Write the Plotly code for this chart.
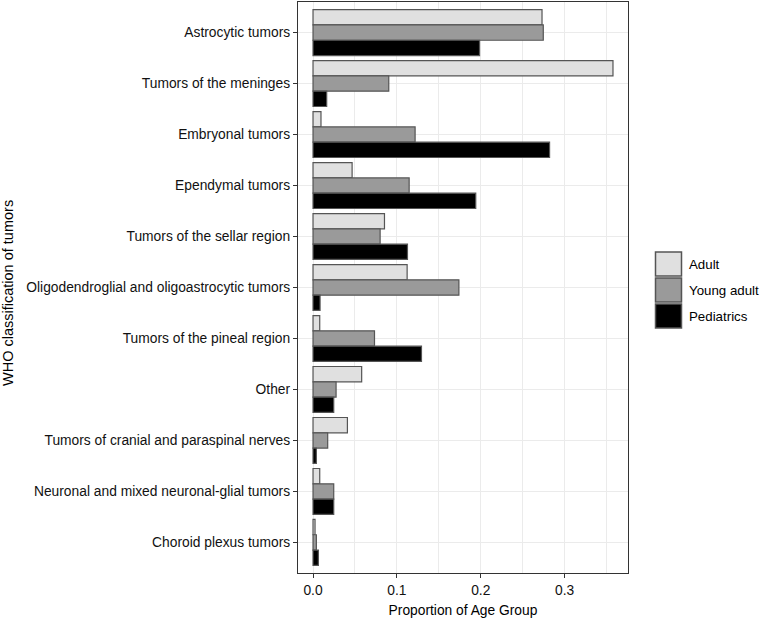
import plotly.graph_objects as go

categories = [
    "Astrocytic tumors",
    "Tumors of the meninges",
    "Embryonal tumors",
    "Ependymal tumors",
    "Tumors of the sellar region",
    "Oligodendroglial and oligoastrocytic tumors",
    "Tumors of the pineal region",
    "Other",
    "Tumors of cranial and paraspinal nerves",
    "Neuronal and mixed neuronal-glial tumors",
    "Choroid plexus tumors",
]
series_names = ["Adult", "Young adult", "Pediatrics"]
adult = [0.273, 0.3576, 0.0095, 0.0466, 0.0852, 0.1122, 0.008, 0.058, 0.041, 0.008, 0.0024]
young_adult = [0.2745, 0.0903, 0.1217, 0.1146, 0.080, 0.1739, 0.0733, 0.0275, 0.0175, 0.0247, 0.004]
pediatrics = [0.1985, 0.0163, 0.282, 0.194, 0.1126, 0.0084, 0.1293, 0.0247, 0.004, 0.0247, 0.0064]
x_ticks = [0.0, 0.1, 0.2, 0.3]
x_tick_labels = ["0.0", "0.1", "0.2", "0.3"]
x_title = "Proportion of Age Group"
y_title = "WHO classification of tumors"

fills = ["#e0e0e0", "#9a9a9a", "#000000"]
outline = "#555555"
FONT = "Liberation Sans, Arial, sans-serif"
FS = 13.8

fig = go.Figure()
for name, vals, col in zip(series_names, [adult, young_adult, pediatrics], fills):
    fig.add_trace(go.Bar(
        y=categories, x=vals, name=name, orientation="h",
        marker=dict(color=col, line=dict(color=outline, width=1.2)),
        showlegend=False,
    ))

# Manual legend with large keys (as in ggplot)
W, H = 761, 620
ml, mr, mt, mb = 298, 133, 2, 47
pw = W - ml - mr
ph = H - mt - mb
def px_to_paper_x(px):
    return (px - ml) / pw
def px_to_paper_y(py):
    return (H - mb - py) / ph

key_top = 251
key_h = 26
for i, (name, col) in enumerate(zip(series_names, fills)):
    y0 = key_top + i * key_h
    fig.add_shape(type="rect", xref="paper", yref="paper",
                  x0=px_to_paper_x(655.5), x1=px_to_paper_x(681.5),
                  y0=px_to_paper_y(y0 + key_h - 1), y1=px_to_paper_y(y0 + 1),
                  fillcolor=col, line=dict(color=outline, width=1.5))
    fig.add_annotation(xref="paper", yref="paper", x=px_to_paper_x(687),
                       y=px_to_paper_y(y0 + key_h / 2), text=name, showarrow=False,
                       xanchor="left", yanchor="middle",
                       font=dict(family=FONT, size=13.3, color="#000000"))

# y-axis title placed like ggplot's (close to the left edge)
fig.add_annotation(xref="paper", yref="paper", x=px_to_paper_x(8), y=px_to_paper_y(293),
                   text=y_title, showarrow=False, textangle=-90,
                   xanchor="center", yanchor="middle",
                   font=dict(family=FONT, size=14.5, color="#000000"))

fig.update_layout(
    width=W, height=H,
    margin=dict(l=ml, r=mr, t=mt, b=mb, autoexpand=False),
    paper_bgcolor="#ffffff", plot_bgcolor="#ffffff",
    barmode="group", bargap=0.1, bargroupgap=0,
    font=dict(family=FONT, size=FS, color="#000000"),
)
fig.update_xaxes(
    range=[-0.0179, 0.3755],
    tickvals=x_ticks, ticktext=x_tick_labels,
    showgrid=True, gridcolor="#ebebeb", gridwidth=1.2,
    minor=dict(dtick=0.05, tick0=0, showgrid=True, gridcolor="#ebebeb", gridwidth=0.8, ticks=""),
    zeroline=False,
    showline=True, mirror=True, linecolor="#333333", linewidth=1.2,
    ticks="outside", ticklen=4, tickcolor="#333333",
    tickfont=dict(family=FONT, size=FS, color="#111111"),
    title=dict(text=x_title, standoff=8,
               font=dict(family=FONT, size=FS, color="#000000")),
)
fig.update_yaxes(
    categoryorder="array", categoryarray=categories,
    range=[10.6, -0.6],
    showgrid=True, gridcolor="#ebebeb", gridwidth=1.2,
    showline=True, mirror=True, linecolor="#333333", linewidth=1.2,
    ticks="outside", ticklen=4, tickcolor="#333333",
    tickfont=dict(family=FONT, size=FS, color="#111111"),
)

fig.write_html("out.html", config={"displayModeBar": False},
               post_script="document.body.style.margin='0px';")
